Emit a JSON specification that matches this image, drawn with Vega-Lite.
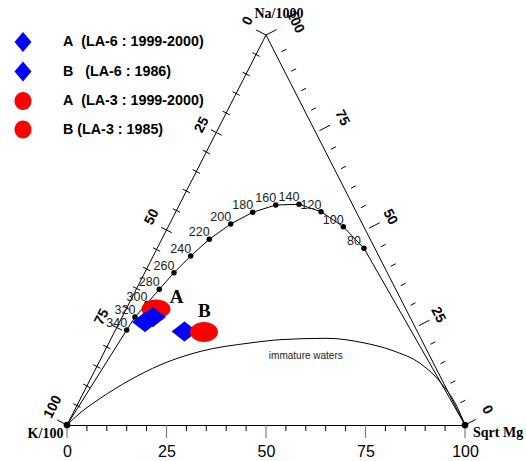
{
  "$schema": "https://vega.github.io/schema/vega-lite/v6.json",
  "width": 398,
  "height": 390,
  "autosize": {"type": "none"},
  "padding": {"left": 67, "top": 35, "right": 61, "bottom": 36},
  "background": "white",
  "config": {"view": {"stroke": null}},
  "datasets": {
    "edges": [
      {"x": 0, "y": 0, "x2": 50, "y2": 100},
      {"x": 50, "y": 100, "x2": 100, "y2": 0}
    ],
    "ticks": [
      {"x": 50, "y": 100, "x2": 47.54, "y2": 101.28},
      {"x": 46.6, "y": 95.47, "x2": 48.4, "y2": 94.53},
      {"x": 44.1, "y": 90.47, "x2": 45.9, "y2": 89.53},
      {"x": 41.6, "y": 85.47, "x2": 43.4, "y2": 84.53},
      {"x": 39.1, "y": 80.47, "x2": 40.9, "y2": 79.53},
      {"x": 36.16, "y": 75.7, "x2": 38.84, "y2": 74.3},
      {"x": 34.1, "y": 70.47, "x2": 35.9, "y2": 69.53},
      {"x": 31.6, "y": 65.47, "x2": 33.4, "y2": 64.53},
      {"x": 29.1, "y": 60.47, "x2": 30.9, "y2": 59.53},
      {"x": 26.6, "y": 55.47, "x2": 28.4, "y2": 54.53},
      {"x": 23.66, "y": 50.7, "x2": 26.34, "y2": 49.3},
      {"x": 21.6, "y": 45.47, "x2": 23.4, "y2": 44.53},
      {"x": 19.1, "y": 40.47, "x2": 20.9, "y2": 39.53},
      {"x": 16.6, "y": 35.47, "x2": 18.4, "y2": 34.53},
      {"x": 14.1, "y": 30.47, "x2": 15.9, "y2": 29.53},
      {"x": 11.16, "y": 25.7, "x2": 13.84, "y2": 24.3},
      {"x": 9.1, "y": 20.47, "x2": 10.9, "y2": 19.53},
      {"x": 6.6, "y": 15.47, "x2": 8.4, "y2": 14.53},
      {"x": 4.1, "y": 10.47, "x2": 5.9, "y2": 9.53},
      {"x": 1.6, "y": 5.47, "x2": 3.4, "y2": 4.53},
      {"x": 0, "y": 0, "x2": -2.46, "y2": 1.28},
      {"x": 50, "y": 100, "x2": 52.69, "y2": 101.4},
      {"x": 53.84, "y": 95.7, "x2": 55.07, "y2": 96.34},
      {"x": 56.34, "y": 90.7, "x2": 57.57, "y2": 91.34},
      {"x": 58.84, "y": 85.7, "x2": 60.07, "y2": 86.34},
      {"x": 61.34, "y": 80.7, "x2": 62.57, "y2": 81.34},
      {"x": 63.4, "y": 75.47, "x2": 66.08, "y2": 76.87},
      {"x": 66.34, "y": 70.7, "x2": 67.57, "y2": 71.34},
      {"x": 68.84, "y": 65.7, "x2": 70.07, "y2": 66.34},
      {"x": 71.34, "y": 60.7, "x2": 72.57, "y2": 61.34},
      {"x": 73.84, "y": 55.7, "x2": 75.07, "y2": 56.34},
      {"x": 75.9, "y": 50.47, "x2": 78.58, "y2": 51.87},
      {"x": 78.84, "y": 45.7, "x2": 80.07, "y2": 46.34},
      {"x": 81.34, "y": 40.7, "x2": 82.57, "y2": 41.34},
      {"x": 83.84, "y": 35.7, "x2": 85.07, "y2": 36.34},
      {"x": 86.34, "y": 30.7, "x2": 87.57, "y2": 31.34},
      {"x": 88.4, "y": 25.47, "x2": 91.08, "y2": 26.87},
      {"x": 91.34, "y": 20.7, "x2": 92.57, "y2": 21.34},
      {"x": 93.84, "y": 15.7, "x2": 95.07, "y2": 16.34},
      {"x": 96.34, "y": 10.7, "x2": 97.57, "y2": 11.34},
      {"x": 98.84, "y": 5.7, "x2": 100.07, "y2": 6.34},
      {"x": 100, "y": 0, "x2": 102.69, "y2": 1.4},
      {"x": 5, "y": 0, "x2": 5, "y2": -1.54},
      {"x": 10, "y": 0, "x2": 10, "y2": -1.54},
      {"x": 15, "y": 0, "x2": 15, "y2": -1.54},
      {"x": 20, "y": 0, "x2": 20, "y2": -1.54},
      {"x": 30, "y": 0, "x2": 30, "y2": -1.54},
      {"x": 35, "y": 0, "x2": 35, "y2": -1.54},
      {"x": 40, "y": 0, "x2": 40, "y2": -1.54},
      {"x": 45, "y": 0, "x2": 45, "y2": -1.54},
      {"x": 55, "y": 0, "x2": 55, "y2": -1.54},
      {"x": 60, "y": 0, "x2": 60, "y2": -1.54},
      {"x": 65, "y": 0, "x2": 65, "y2": -1.54},
      {"x": 70, "y": 0, "x2": 70, "y2": -1.54},
      {"x": 80, "y": 0, "x2": 80, "y2": -1.54},
      {"x": 85, "y": 0, "x2": 85, "y2": -1.54},
      {"x": 90, "y": 0, "x2": 90, "y2": -1.54},
      {"x": 95, "y": 0, "x2": 95, "y2": -1.54}
    ],
    "majorticks": [
      {"x": 0, "y": 0, "x2": 0, "y2": -3.33},
      {"x": 25, "y": 0, "x2": 25, "y2": -3.33},
      {"x": 50, "y": 0, "x2": 50, "y2": -3.33},
      {"x": 75, "y": 0, "x2": 75, "y2": -3.33},
      {"x": 100, "y": 0, "x2": 100, "y2": -3.33}
    ],
    "eq": [
      {"x": 0, "y": 0, "T": null},
      {"x": 15.0, "y": 24.36, "T": "340"},
      {"x": 17.09, "y": 27.69, "T": "320"},
      {"x": 20.1, "y": 31.15, "T": "300"},
      {"x": 23.19, "y": 34.79, "T": "280"},
      {"x": 26.88, "y": 39.05, "T": "260"},
      {"x": 31.08, "y": 43.33, "T": "240"},
      {"x": 35.75, "y": 47.62, "T": "220"},
      {"x": 41.13, "y": 51.54, "T": "200"},
      {"x": 46.66, "y": 54.54, "T": "180"},
      {"x": 52.44, "y": 56.41, "T": "160"},
      {"x": 58.29, "y": 56.59, "T": "140"},
      {"x": 63.82, "y": 54.69, "T": "120"},
      {"x": 69.42, "y": 50.85, "T": "100"},
      {"x": 74.62, "y": 45.31, "T": "80"},
      {"x": 100, "y": 0, "T": null}
    ],
    "vtx": [{"x": 0, "y": 0}, {"x": 100, "y": 0}],
    "imm": [
      {"x": 0, "y": 0},
      {"x": 3.27, "y": 3.08},
      {"x": 8.29, "y": 6.79},
      {"x": 15.83, "y": 11.54},
      {"x": 23.37, "y": 15.38},
      {"x": 33.42, "y": 18.85},
      {"x": 45.98, "y": 21.03},
      {"x": 54.27, "y": 21.92},
      {"x": 65.33, "y": 22.23},
      {"x": 74.37, "y": 21.1},
      {"x": 81.91, "y": 19.05},
      {"x": 88.69, "y": 15.82},
      {"x": 93.72, "y": 11.1},
      {"x": 97.99, "y": 4.69},
      {"x": 100, "y": 0}
    ],
    "pts": [
      {"s": "A\u00a0\u00a0(LA-3 : 1999-2000)", "x": 22.36, "y": 29.74},
      {"s": "A\u00a0\u00a0(LA-6 : 1999-2000)", "x": 19.6, "y": 26.41},
      {"s": "A\u00a0\u00a0(LA-6 : 1999-2000)", "x": 21.61, "y": 27.69},
      {"s": "B\u00a0\u00a0\u00a0(LA-6 : 1986)", "x": 29.52, "y": 23.97},
      {"s": "B (LA-3 : 1985)", "x": 34.42, "y": 23.85}
    ],
    "leftlab": [
      {"x": 45.48, "y": 103.59, "t": "0"},
      {"x": 33.92, "y": 76.92, "t": "25"},
      {"x": 21.36, "y": 53.33, "t": "50"},
      {"x": 8.79, "y": 27.69, "t": "75"},
      {"x": -3.52, "y": 4.62, "t": "100"}
    ],
    "rightlab": [
      {"x": 57.29, "y": 103.33, "t": "100"},
      {"x": 69.1, "y": 78.72, "t": "75"},
      {"x": 81.16, "y": 53.33, "t": "50"},
      {"x": 93.22, "y": 28.21, "t": "25"},
      {"x": 105.53, "y": 3.85, "t": "0"}
    ],
    "serif": [
      {"x": 53.27, "y": 105.38, "t": "Na/1000"},
      {"x": -5.4, "y": -2.18, "t": "K/100"}
    ],
    "ab": [
      {"x": 27.51, "y": 32.82, "t": "A"},
      {"x": 34.5, "y": 29.23, "t": "B"}
    ]
  },
  "layer": [
    {
      "data": {"name": "edges"},
      "mark": {"type": "rule", "color": "black", "strokeWidth": 1},
      "encoding": {
        "x": {"field": "x", "type": "quantitative", "scale": {"domain": [0, 100], "nice": false, "zero": false},
          "axis": {
            "orient": "bottom",
            "values": [0, 25, 50, 75, 100],
            "labelOverlap": false,
            "labelFlush": false,
            "labelFont": "Liberation Sans",
            "labelFontSize": 16,
            "labelColor": "black",
            "ticks": false,
            "tickSize": 0,
            "labelPadding": 18,
            "domainColor": "black",
            "domainWidth": 1,
            "grid": false,
            "title": null
          }},
        "y": {"field": "y", "type": "quantitative", "scale": {"domain": [0, 100], "nice": false, "zero": false}, "axis": null},
        "x2": {"field": "x2"},
        "y2": {"field": "y2"}
      }
    },
    {
      "data": {"name": "ticks"},
      "mark": {"type": "rule", "color": "black", "strokeWidth": 1},
      "encoding": {
        "x": {"field": "x", "type": "quantitative"},
        "y": {"field": "y", "type": "quantitative"},
        "x2": {"field": "x2"},
        "y2": {"field": "y2"}
      }
    },
    {
      "data": {"name": "majorticks"},
      "mark": {"type": "rule", "color": "#7f7f7f", "strokeWidth": 1.2},
      "encoding": {
        "x": {"field": "x", "type": "quantitative"},
        "y": {"field": "y", "type": "quantitative"},
        "x2": {"field": "x2"},
        "y2": {"field": "y2"}
      }
    },
    {
      "data": {"name": "imm"},
      "mark": {"type": "line", "color": "black", "strokeWidth": 1, "interpolate": "monotone"},
      "encoding": {
        "x": {"field": "x", "type": "quantitative"},
        "y": {"field": "y", "type": "quantitative"}
      }
    },
    {
      "data": {"name": "eq"},
      "mark": {"type": "line", "color": "black", "strokeWidth": 1},
      "encoding": {
        "x": {"field": "x", "type": "quantitative"},
        "y": {"field": "y", "type": "quantitative"}
      }
    },
    {
      "data": {"name": "eq"},
      "transform": [{"filter": "datum.T != null"}],
      "mark": {"type": "point", "shape": "circle", "filled": true, "color": "black", "size": 30, "opacity": 1},
      "encoding": {
        "x": {"field": "x", "type": "quantitative"},
        "y": {"field": "y", "type": "quantitative"}
      }
    },
    {
      "data": {"name": "vtx"},
      "mark": {"type": "point", "shape": "circle", "filled": true, "color": "black", "size": 45, "opacity": 1},
      "encoding": {
        "x": {"field": "x", "type": "quantitative"},
        "y": {"field": "y", "type": "quantitative"}
      }
    },
    {
      "data": {"name": "pts"},
      "mark": {"type": "point", "filled": true, "size": 400, "opacity": 1},
      "encoding": {
        "x": {"field": "x", "type": "quantitative"},
        "y": {"field": "y", "type": "quantitative"},
        "color": {"field": "s", "type": "nominal",
          "scale": {
            "domain": ["A\u00a0\u00a0(LA-6 : 1999-2000)", "B\u00a0\u00a0\u00a0(LA-6 : 1986)", "A\u00a0\u00a0(LA-3 : 1999-2000)", "B (LA-3 : 1985)"],
            "range": ["#0000ff", "#0000ff", "#ff0000", "#ff0000"]
          },
          "legend": {
            "title": null, "orient": "none", "legendX": -54, "legendY": -3,
            "padding": 0, "rowPadding": 9.5, "symbolSize": 400, "labelOffset": 30,
            "labelFont": "Liberation Sans", "labelFontSize": 14.3, "labelFontWeight": "bold",
            "labelColor": "black", "labelLimit": 400, "symbolStrokeWidth": 0
          }},
        "shape": {"field": "s", "type": "nominal",
          "scale": {
            "domain": ["A\u00a0\u00a0(LA-6 : 1999-2000)", "B\u00a0\u00a0\u00a0(LA-6 : 1986)", "A\u00a0\u00a0(LA-3 : 1999-2000)", "B (LA-3 : 1985)"],
            "range": ["M -0.85,0 L 0,-1 L 0.85,0 L 0,1 Z", "M -0.85,0 L 0,-1 L 0.85,0 L 0,1 Z", "M -0.85,0 A 0.85,0.9 0 1,0 0.85,0 A 0.85,0.9 0 1,0 -0.85,0 Z", "M -0.85,0 A 0.85,0.9 0 1,0 0.85,0 A 0.85,0.9 0 1,0 -0.85,0 Z"]
          },
          "legend": {
            "title": null, "orient": "none", "legendX": -54, "legendY": -3,
            "padding": 0, "rowPadding": 9.5, "symbolSize": 400, "labelOffset": 30,
            "labelFont": "Liberation Sans", "labelFontSize": 14.3, "labelFontWeight": "bold",
            "labelColor": "black", "labelLimit": 400, "symbolStrokeWidth": 0
          }}
      }
    },
    {
      "data": {"name": "pts"},
      "transform": [{"filter": "test(/LA-3 : 1999/, datum.s)"}],
      "mark": {"type": "point", "filled": true, "size": 400, "opacity": 1, "color": "#ff0000",
        "shape": "M -1.45,0 A 1.45,0.95 0 1,0 1.45,0 A 1.45,0.95 0 1,0 -1.45,0 Z"},
      "encoding": {
        "x": {"field": "x", "type": "quantitative"},
        "y": {"field": "y", "type": "quantitative"}
      }
    },
    {
      "data": {"name": "pts"},
      "transform": [{"filter": "test(/LA-6/, datum.s)"}],
      "mark": {"type": "point", "filled": true, "size": 400, "opacity": 1, "color": "#0000ff",
        "shape": "M -1.3,0 L 0,-1 L 1.3,0 L 0,1 Z"},
      "encoding": {
        "x": {"field": "x", "type": "quantitative"},
        "y": {"field": "y", "type": "quantitative"}
      }
    },
    {
      "data": {"name": "pts"},
      "transform": [{"filter": "test(/LA-3 : 1985/, datum.s)"}],
      "mark": {"type": "point", "filled": true, "size": 400, "opacity": 1, "color": "#ff0000",
        "shape": "M -1.4,0 A 1.4,1 0 1,0 1.4,0 A 1.4,1 0 1,0 -1.4,0 Z"},
      "encoding": {
        "x": {"field": "x", "type": "quantitative"},
        "y": {"field": "y", "type": "quantitative"}
      }
    },
    {
      "data": {"name": "eq"},
      "transform": [{"filter": "datum.T != null"}],
      "mark": {"type": "text", "font": "Liberation Sans", "fontSize": 12.5, "color": "#222222", "dx": -10, "dy": -7, "align": "center", "baseline": "middle"},
      "encoding": {
        "x": {"field": "x", "type": "quantitative"},
        "y": {"field": "y", "type": "quantitative"},
        "text": {"field": "T"}
      }
    },
    {
      "data": {"name": "leftlab"},
      "mark": {"type": "text", "font": "Liberation Sans", "fontSize": 14, "fontWeight": "bold", "color": "black", "angle": -63, "align": "center", "baseline": "middle"},
      "encoding": {
        "x": {"field": "x", "type": "quantitative"},
        "y": {"field": "y", "type": "quantitative"},
        "text": {"field": "t"}
      }
    },
    {
      "data": {"name": "rightlab"},
      "mark": {"type": "text", "font": "Liberation Sans", "fontSize": 14, "fontWeight": "bold", "color": "black", "angle": 63, "align": "center", "baseline": "middle"},
      "encoding": {
        "x": {"field": "x", "type": "quantitative"},
        "y": {"field": "y", "type": "quantitative"},
        "text": {"field": "t"}
      }
    },
    {
      "data": {"name": "serif"},
      "mark": {"type": "text", "font": "Liberation Serif", "fontSize": 14, "fontWeight": "bold", "color": "black", "align": "center", "baseline": "middle"},
      "encoding": {
        "x": {"field": "x", "type": "quantitative"},
        "y": {"field": "y", "type": "quantitative"},
        "text": {"field": "t"}
      }
    },
    {
      "data": {"values": [{"x": 102.01, "y": -2.05, "t": "Sqrt Mg"}]},
      "mark": {"type": "text", "font": "Liberation Serif", "fontSize": 14, "fontWeight": "bold", "color": "black", "align": "left", "baseline": "middle"},
      "encoding": {
        "x": {"field": "x", "type": "quantitative"},
        "y": {"field": "y", "type": "quantitative"},
        "text": {"field": "t"}
      }
    },
    {
      "data": {"name": "ab"},
      "mark": {"type": "text", "font": "Liberation Serif", "fontSize": 19, "fontWeight": "bold", "color": "black", "align": "center", "baseline": "middle"},
      "encoding": {
        "x": {"field": "x", "type": "quantitative"},
        "y": {"field": "y", "type": "quantitative"},
        "text": {"field": "t"}
      }
    },
    {
      "data": {"values": [{"x": 60.0, "y": 17.69, "t": "immature waters"}]},
      "mark": {"type": "text", "font": "Liberation Sans", "fontSize": 10, "color": "#222222", "align": "center", "baseline": "middle"},
      "encoding": {
        "x": {"field": "x", "type": "quantitative"},
        "y": {"field": "y", "type": "quantitative"},
        "text": {"field": "t"}
      }
    }
  ]
}
